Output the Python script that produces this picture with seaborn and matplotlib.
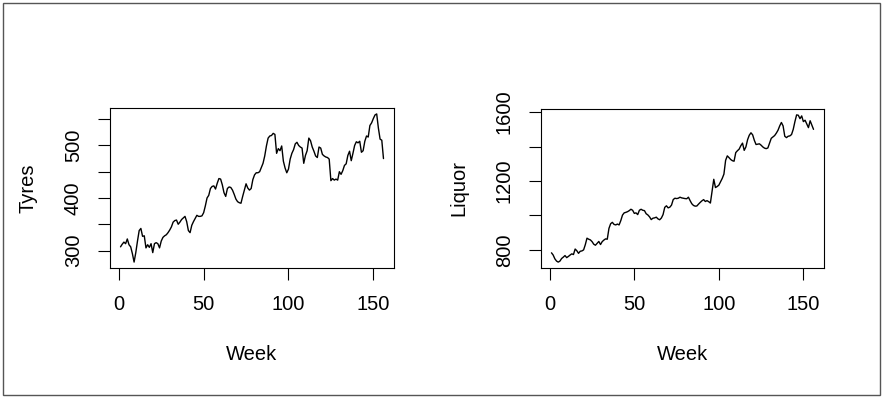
import matplotlib
matplotlib.use("Agg")
import matplotlib.pyplot as plt
import seaborn as sns
import pandas as pd
from matplotlib.patches import Rectangle

weeks = list(range(1, 157))

tyres = [307, 312, 316, 313, 322, 311, 307, 294, 278, 296,
         318, 338, 342, 327, 328, 305, 311, 306, 313, 296,
         313, 315, 313, 305, 318, 325, 328, 330, 334, 339,
         345, 354, 357, 358, 350, 354, 359, 362, 365, 355,
         338, 334, 348, 355, 361, 367, 365, 365, 366, 372,
         385, 400, 405, 418, 422, 423, 417, 428, 437, 436,
         425, 410, 403, 418, 421, 420, 415, 407, 398, 393,
         391, 390, 403, 415, 427, 419, 415, 418, 435, 444,
         448, 448, 450, 458, 466, 480, 499, 514, 518, 519,
         523, 521, 485, 494, 490, 499, 470, 457, 448, 455,
         474, 485, 492, 503, 506, 500, 497, 495, 466, 481,
         490, 514, 509, 497, 489, 480, 477, 497, 495, 483,
         480, 478, 477, 474, 433, 437, 434, 436, 434, 450,
         445, 452, 462, 465, 481, 489, 471, 485, 500, 507,
         505, 508, 487, 490, 508, 518, 516, 538, 543, 551,
         558, 560, 533, 512, 510, 475]

liquor = [783, 770, 748, 735, 729, 735, 750, 758, 767, 755,
          762, 770, 777, 773, 805, 795, 780, 792, 794, 800,
          830, 868, 862, 858, 848, 833, 827, 838, 849, 831,
          848, 857, 864, 862, 925, 952, 960, 948, 945, 950,
          945, 970, 1002, 1015, 1018, 1022, 1028, 1036, 1030, 1012,
          1015, 1005, 1030, 1036, 1030, 1028, 1010, 1003, 992, 976,
          984, 986, 990, 980, 975, 985, 1005, 1047, 1056, 1044,
          1048, 1060, 1092, 1100, 1098, 1100, 1106, 1102, 1100, 1098,
          1097, 1106, 1086, 1068, 1058, 1054, 1055, 1066, 1076, 1085,
          1092, 1081, 1086, 1080, 1072, 1140, 1210, 1162, 1168, 1176,
          1195, 1215, 1240, 1320, 1346, 1336, 1325, 1318, 1315, 1365,
          1376, 1385, 1405, 1420, 1378, 1398, 1440, 1466, 1480, 1468,
          1436, 1412, 1414, 1416, 1408, 1398, 1391, 1388, 1392, 1420,
          1448, 1456, 1464, 1478, 1495, 1520, 1540, 1520, 1460, 1452,
          1460, 1462, 1470, 1500, 1545, 1584, 1582, 1562, 1578, 1545,
          1553, 1532, 1510, 1550, 1525, 1500]

x_ticks = [0, 50, 100, 150]
tyres_ticks = [300, 350, 400, 450, 500, 550]
tyres_labels = ["300", "", "400", "", "500", ""]
liquor_ticks = [800, 1000, 1200, 1400, 1600]
liquor_labels = ["800", "", "1200", "", "1600"]

df = pd.DataFrame({"Week": weeks, "Tyres": tyres, "Liquor": liquor})

sns.set_style("ticks")
plt.rcParams["font.family"] = ["Liberation Sans", "DejaVu Sans"]
plt.rcParams["font.size"] = 14.5
for k in ["text.color", "axes.labelcolor", "xtick.color", "ytick.color", "axes.edgecolor"]:
    plt.rcParams[k] = "black"

W, H = 884, 398
fig = plt.figure(figsize=(W / 100, H / 100), dpi=100)
fig.patches.append(Rectangle((3 / W, 3 / H), 877 / W, 392 / H, transform=fig.transFigure,
                             fill=False, edgecolor="#555555", linewidth=1.0))

panels = [
    ("Tyres", tyres_ticks, tyres_labels, 110, 108, 284, 160),
    ("Liquor", liquor_ticks, liquor_labels, 541, 109, 283, 159),
]

for col, yt, yl, px, py, pw, ph in panels:
    ax = fig.add_axes([px / W, 1 - (py + ph) / H, pw / W, ph / H])
    sns.lineplot(data=df, x="Week", y=col, ax=ax, color="black", linewidth=1.0)
    ax.margins(x=0.04, y=0.04)
    ax.set_xticks(x_ticks)
    ax.set_xticklabels([str(t) for t in x_ticks])
    ax.set_yticks(yt)
    ax.set_yticklabels(yl, rotation=90, va="center")
    ax.tick_params(axis="both", direction="out", length=8.5, width=0.8,
                   color="black", labelcolor="black", labelsize=14.5, pad=11)
    for s in ax.spines.values():
        s.set_visible(True)
        s.set_color("black")
        s.set_linewidth(0.8)
    ax.set_xlabel("Week", fontsize=14.5, labelpad=22, color="black")
    ax.set_ylabel(col, fontsize=14.5, labelpad=19, color="black")
    ax.grid(False)

fig.savefig("out.png", dpi=100, facecolor="white")
